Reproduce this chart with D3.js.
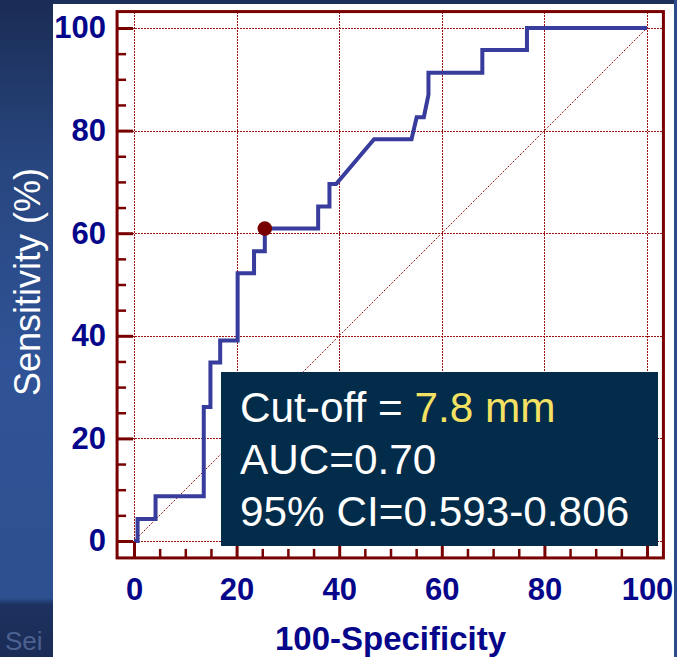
<!DOCTYPE html>
<html lang="en">

<head>
    <meta charset="UTF-8">
    <title>ROC curve</title>
    <script src="https://cdnjs.cloudflare.com/ajax/libs/d3/7.9.0/d3.min.js"></script>
    <style>
        body { margin: 0; background: #1c2f5a; }
        svg { display: block; }
    </style>
</head>

<body>
    <div id="chart"></div>

    <script>
        // ROC curve (100-specificity vs sensitivity, %)
        const fpr = [0, 0.7, 0.7, 4.2, 4.2, 13.6, 13.6, 14.9, 14.9, 16.8, 16.8, 20.2, 20.2, 23.4, 23.4, 25.5, 25.5,
            35.9, 35.9, 38.1, 38.1, 39.4, 46.8, 54.1, 55.1, 56.5, 57.4, 57.4, 67.9, 67.9, 76.6, 76.6, 100];
        const tpr = [0, 0, 4.3, 4.3, 8.7, 8.7, 26.1, 26.1, 34.8, 34.8, 39.1, 39.1, 52.2, 52.2, 56.5, 56.5, 60.9,
            60.9, 65.2, 65.2, 69.6, 69.6, 78.3, 78.3, 82.6, 82.6, 87.0, 91.3, 91.3, 95.7, 95.7, 100, 100];

        // cut-off point marker
        const cutX = [25.5];
        const cutY = [60.9];

        const majorTicks = [0, 20, 40, 60, 80, 100];
        const minorTicks = [5, 10, 15, 25, 30, 35, 45, 50, 55, 65, 70, 75, 85, 90, 95];

        const xTitle = "100-Specificity";
        const yTitle = "Sensitivity (%)";
        const infoLines = ["AUC=0.70", "95% CI=0.593-0.806"];
        const cutLabel = "Cut-off = ";
        const cutValue = "7.8 mm";

        const W = 677, H = 657;
        const RED = "#780000", NAVY = "#06068a", LINE = "#383c9c";
        const FONT = "'Liberation Sans', Arial, sans-serif";

        const svg = d3.select("#chart").append("svg")
            .attr("width", W).attr("height", H);

        // slide background
        const grad = svg.append("defs").append("linearGradient")
            .attr("id", "side").attr("x1", 0).attr("y1", 0).attr("x2", 0).attr("y2", 1);
        [[0, "#1a2c55"], [0.25, "#28467f"], [0.55, "#2f5396"], [0.91, "#2d5090"], [0.92, "#1d3260"], [1, "#1a2c56"]]
            .forEach(s => grad.append("stop").attr("offset", s[0]).attr("stop-color", s[1]));

        svg.append("rect").attr("width", W).attr("height", H).attr("fill", "#1b2f5a");
        svg.append("rect").attr("width", 53).attr("height", H).attr("fill", "url(#side)");
        svg.append("text").attr("x", 5).attr("y", 650)
            .attr("font-family", FONT).attr("font-size", 26).attr("fill", "#4c6190")
            .text("Sei");
        svg.append("rect").attr("x", 674).attr("y", 0).attr("width", 3).attr("height", H).attr("fill", "#2b4b8b");
        svg.append("rect").attr("x", 53).attr("y", 4).attr("width", 621).attr("height", H - 4).attr("fill", "#ffffff");

        const x = d3.scaleLinear().domain([0, 100]).range([134, 647]);
        const y = d3.scaleLinear().domain([0, 100]).range([541, 28]);
        const lo = -3.3, hi = 103.2;
        const px = v => Math.round(v) + 0.5;

        // dotted grid
        const grid = svg.append("g")
            .attr("stroke", "#9a1212").attr("stroke-width", 1).attr("stroke-dasharray", "2,1")
            .attr("shape-rendering", "crispEdges");
        grid.selectAll(".gx").data(majorTicks).join("line")
            .attr("x1", d => px(x(d))).attr("x2", d => px(x(d)))
            .attr("y1", y(hi)).attr("y2", y(lo));
        grid.selectAll(".gy").data(majorTicks).join("line")
            .attr("y1", d => px(y(d))).attr("y2", d => px(y(d)))
            .attr("x1", x(lo)).attr("x2", x(hi));

        // reference diagonal
        svg.append("line")
            .attr("x1", x(0)).attr("y1", y(0)).attr("x2", x(100)).attr("y2", y(100))
            .attr("stroke", "#a01818").attr("stroke-width", 1).attr("stroke-dasharray", "2,1.5");

        // ROC curve
        const pts = fpr.map((v, i) => [v, tpr[i]]);
        svg.append("path")
            .datum(pts)
            .attr("fill", "none")
            .attr("stroke", LINE)
            .attr("stroke-width", 4)
            .attr("stroke-linejoin", "miter")
            .attr("d", d3.line().x(d => x(d[0])).y(d => y(d[1])));

        svg.selectAll(".cut")
            .data(cutX.map((v, i) => [v, cutY[i]]))
            .join("circle")
            .attr("cx", d => x(d[0])).attr("cy", d => y(d[1]))
            .attr("r", 7.3).attr("fill", RED);

        // inward ticks on left and bottom
        function tickAxis(gen, transform, values, size, width) {
            const g = svg.append("g").attr("transform", transform)
                .call(gen.tickValues(values).tickSize(size).tickFormat(""));
            g.select(".domain").remove();
            g.selectAll("line").attr("stroke", RED).attr("stroke-width", width);
        }
        const yLeft = x(lo), xBottom = y(lo);
        tickAxis(d3.axisRight(y), `translate(${yLeft},0)`, majorTicks, 16, 3);
        tickAxis(d3.axisRight(y), `translate(${yLeft},0)`, minorTicks, 9, 2.5);
        tickAxis(d3.axisTop(x), `translate(0,${xBottom})`, majorTicks, 16, 3);
        tickAxis(d3.axisTop(x), `translate(0,${xBottom})`, minorTicks, 9, 2.5);

        // tick labels
        const yLab = svg.append("g").attr("transform", `translate(${yLeft},0)`)
            .call(d3.axisLeft(y).tickValues(majorTicks).tickSize(0).tickPadding(11));
        const xLab = svg.append("g").attr("transform", `translate(0,${xBottom})`)
            .call(d3.axisBottom(x).tickValues(majorTicks).tickSize(0).tickPadding(20));
        [yLab, xLab].forEach(g => {
            g.select(".domain").remove();
            g.selectAll("text")
                .attr("fill", NAVY)
                .style("font-family", FONT)
                .style("font-size", "31px")
                .style("font-weight", "bold");
        });

        // text box (drawn over ticks and diagonal, as in the slide)
        const box = svg.append("g");
        box.append("rect")
            .attr("x", 221).attr("y", 372).attr("width", 437).attr("height", 174)
            .attr("fill", "#032c4a");
        const t1 = box.append("text").attr("x", 240).attr("y", 422)
            .attr("font-family", FONT).attr("font-size", 42.3).attr("fill", "#ffffff");
        t1.append("tspan").text(cutLabel);
        t1.append("tspan").attr("fill", "#f6e262").text(cutValue);
        box.selectAll(".info").data(infoLines).join("text")
            .attr("x", 240).attr("y", (d, i) => 474 + i * 52)
            .attr("font-family", FONT).attr("font-size", 42.3).attr("fill", "#ffffff")
            .text(d => d);

        // frame
        svg.append("rect")
            .attr("x", x(lo)).attr("y", y(hi))
            .attr("width", x(hi) - x(lo)).attr("height", y(lo) - y(hi))
            .attr("fill", "none").attr("stroke", RED).attr("stroke-width", 3);

        // axis titles
        svg.append("text")
            .attr("x", x(50)).attr("y", 650)
            .attr("text-anchor", "middle")
            .attr("font-family", FONT).attr("font-size", 33).attr("font-weight", "bold")
            .attr("fill", NAVY)
            .text(xTitle);

        svg.append("text")
            .attr("transform", "translate(40,282) rotate(-90)")
            .attr("text-anchor", "middle")
            .attr("font-family", FONT).attr("font-size", 36)
            .attr("fill", "#ffffff")
            .text(yTitle);
    </script>
</body>

</html>
